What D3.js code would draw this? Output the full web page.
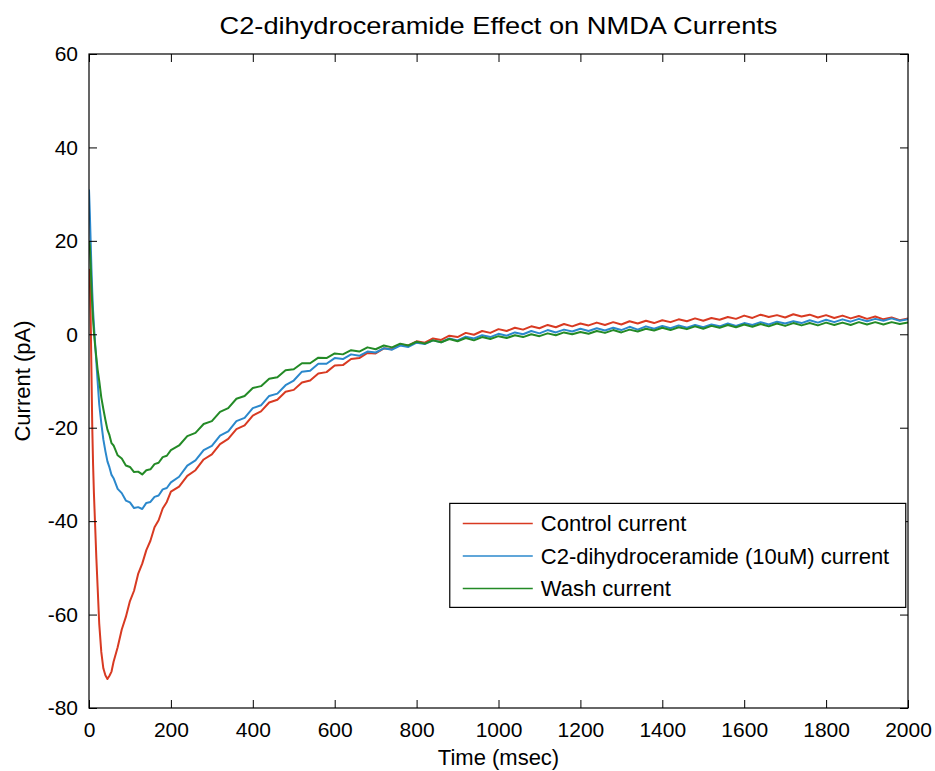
<!DOCTYPE html>
<html>
<head>
<meta charset="utf-8">
<script src="https://cdn.jsdelivr.net/npm/d3@7"></script>
<style>
  body { margin: 0; background: #fff; }
  text { font-family: "Liberation Sans", Arial, sans-serif; fill: #000; }
</style>
</head>
<body>
<div id="chart"></div>
<script>
// Data
const timeMs = [0, 2, 4, 6, 8, 10, 12, 15, 18, 21, 25, 30, 35, 40, 45, 50, 55, 60, 70, 80,
  90, 100, 110, 120, 130, 140, 150, 160, 170, 180, 190, 200,
  220, 240, 260, 280, 300, 320, 340, 360, 380, 400,
  420, 440, 460, 480, 500, 520, 540, 560, 580, 600,
  620, 640, 660, 680, 700, 720, 740, 760, 780, 800,
  820, 840, 860, 880, 900, 920, 940, 960, 980, 1000,
  1020, 1040, 1060, 1080, 1100, 1120, 1140, 1160, 1180, 1200,
  1220, 1240, 1260, 1280, 1300, 1320, 1340, 1360, 1380, 1400,
  1420, 1440, 1460, 1480, 1500, 1520, 1540, 1560, 1580, 1600,
  1620, 1640, 1660, 1680, 1700, 1720, 1740, 1760, 1780, 1800,
  1820, 1840, 1860, 1880, 1900, 1920, 1940, 1960, 1980, 2000]

const controlCurrent = [14, 12, 4, -8, -20, -28, -34, -41, -48, -54, -62, -68, -71.5, -73, -73.8, -73.1, -72.2, -70.1, -67.0, -63.2,
  -60.5, -57.1, -54.9, -51.3, -49.1, -46.2, -44.2, -41.3, -39.8, -37.3, -35.9, -33.7,
  -32.6, -30.3, -29.1, -26.8, -25.7, -23.5, -22.4, -20.3, -19.5, -17.4,
  -16.5, -14.6, -14.0, -12.3, -11.9, -10.3, -9.9, -8.4, -8.1, -6.7,
  -6.6, -5.3, -5.1, -4.0, -4.1, -3.0, -3.2, -2.2, -2.4, -1.5,
  -1.8, -0.9, -1.2, -0.3, -0.6, 0.3, -0.1, 0.7, 0.3, 1.1,
  0.7, 1.4, 1.0, 1.7, 1.3, 2.0, 1.5, 2.2, 1.7, 2.3,
  1.9, 2.5, 2.0, 2.6, 2.1, 2.8, 2.3, 2.9, 2.4, 3.0,
  2.6, 3.2, 2.8, 3.4, 2.9, 3.5, 3.1, 3.7, 3.3, 4.0,
  3.5, 4.2, 3.7, 4.1, 3.6, 4.3, 3.8, 4.2, 3.6, 4.1,
  3.5, 4.0, 3.4, 3.9, 3.3, 3.8, 3.2, 3.6, 3.0, 3.4]

const ceramideCurrent = [31, 26, 20, 14, 9, 5, 2, -2, -6, -10, -15, -19, -22.5, -25, -27.2, -28.5, -30.1, -30.8, -33.1, -34.0,
  -35.6, -36.0, -37.2, -37.0, -37.4, -36.1, -35.9, -34.8, -34.5, -33.2, -32.9, -31.7,
  -30.5, -28.1, -27.0, -24.8, -23.9, -21.7, -20.8, -18.6, -17.9, -15.8,
  -15.2, -13.2, -12.7, -10.9, -9.9, -8.0, -7.8, -6.3, -6.3, -5.1,
  -5.3, -4.3, -4.6, -3.7, -3.9, -3.0, -3.3, -2.4, -2.7, -1.8,
  -2.1, -1.3, -1.7, -0.9, -1.3, -0.5, -0.9, -0.2, -0.6, 0.1,
  -0.3, 0.4, 0.0, 0.7, 0.2, 0.9, 0.4, 1.0, 0.6, 1.2,
  0.7, 1.3, 0.8, 1.4, 0.9, 1.6, 1.0, 1.7, 1.2, 1.8,
  1.3, 1.9, 1.4, 2.0, 1.5, 2.1, 1.7, 2.3, 1.8, 2.4,
  2.0, 2.6, 2.1, 2.7, 2.3, 2.8, 2.4, 3.0, 2.5, 3.1,
  2.6, 3.2, 2.7, 3.3, 2.8, 3.3, 2.9, 3.4, 2.9, 3.2]

const washCurrent = [20, 19, 15, 10, 6, 3, 0.5, -2.5, -5, -7.5, -10, -13.5, -16, -18.3, -20.4, -21.6, -23.3, -23.8, -25.9, -26.6,
  -28.1, -28.4, -29.5, -29.4, -30.0, -29.1, -28.9, -27.8, -27.5, -26.3, -26.0, -24.8,
  -23.8, -21.8, -21.1, -19.2, -18.6, -16.6, -15.8, -13.8, -13.2, -11.5,
  -11.1, -9.5, -9.2, -7.7, -7.5, -6.2, -6.2, -5.0, -5.1, -4.1,
  -4.3, -3.4, -3.7, -2.8, -3.2, -2.4, -2.8, -2.0, -2.4, -1.6,
  -2.0, -1.3, -1.7, -1.0, -1.5, -0.8, -1.3, -0.6, -1.0, -0.4,
  -0.8, -0.2, -0.6, 0.0, -0.4, 0.2, -0.2, 0.4, 0.0, 0.5,
  0.1, 0.7, 0.3, 0.9, 0.4, 1.0, 0.6, 1.2, 0.8, 1.4,
  0.9, 1.5, 1.1, 1.7, 1.2, 1.8, 1.4, 2.0, 1.5, 2.1,
  1.6, 2.2, 1.7, 2.3, 1.8, 2.4, 1.9, 2.4, 1.9, 2.5,
  2.0, 2.5, 2.0, 2.6, 2.1, 2.6, 2.1, 2.6, 2.2, 2.5]

const seriesNames = ['Control current', 'C2-dihydroceramide (10uM) current', 'Wash current']
const seriesValues = [controlCurrent, ceramideCurrent, washCurrent]
const seriesColors = ['#d83a22', '#2b88cc', '#238a26']

const xTicks = [0, 200, 400, 600, 800, 1000, 1200, 1400, 1600, 1800, 2000]
const yTicks = [-80, -60, -40, -20, 0, 20, 40, 60]

// Dimensions
const dimensions = {
  width: 935,
  height: 771,
  margins: { top: 54, right: 27, bottom: 63, left: 89 },
}
dimensions.ctrWidth = dimensions.width - dimensions.margins.left - dimensions.margins.right
dimensions.ctrHeight = dimensions.height - dimensions.margins.top - dimensions.margins.bottom

const svg = d3.select('#chart')
  .append('svg')
  .attr('width', dimensions.width)
  .attr('height', dimensions.height)

const ctr = svg.append('g')
  .attr('transform', `translate(${dimensions.margins.left}, ${dimensions.margins.top})`)

// Scales
const xScale = d3.scaleLinear().domain([0, 2000]).range([0, dimensions.ctrWidth])
const yScale = d3.scaleLinear().domain([-80, 60]).range([dimensions.ctrHeight, 0])

ctr.append('clipPath').attr('id', 'plot-clip')
  .append('rect')
  .attr('width', dimensions.ctrWidth)
  .attr('height', dimensions.ctrHeight)

// Lines
const lineGenerator = d3.line()
  .x((d, i) => xScale(timeMs[i]))
  .y(d => yScale(d))

ctr.append('g').attr('clip-path', 'url(#plot-clip)')
  .selectAll('path')
  .data(seriesValues)
  .join('path')
  .attr('d', lineGenerator)
  .attr('fill', 'none')
  .attr('stroke', (d, i) => seriesColors[i])
  .attr('stroke-width', 2)
  .attr('stroke-linejoin', 'round')

// Axes (ticks inside, box on all sides)
const tickLen = 8
const plainNum = d => String(d)   // hyphen minus, no thousands comma
const styleAxis = g => {
  g.select('.domain').remove()
  g.selectAll('.tick line').attr('stroke', '#000')
  g.selectAll('.tick text').style('font-size', '21px').attr('fill', '#000')
}

ctr.append('g')
  .attr('transform', `translate(0, ${dimensions.ctrHeight})`)
  .call(d3.axisBottom(xScale).tickValues(xTicks).tickFormat(plainNum).tickSizeInner(-tickLen).tickSizeOuter(0).tickPadding(14))
  .call(styleAxis)

ctr.append('g')
  .call(d3.axisTop(xScale).tickValues(xTicks).tickSizeInner(-tickLen).tickSizeOuter(0).tickFormat(''))
  .call(styleAxis)

ctr.append('g')
  .call(d3.axisLeft(yScale).tickValues(yTicks).tickFormat(plainNum).tickSizeInner(-tickLen).tickSizeOuter(0).tickPadding(11))
  .call(styleAxis)

ctr.append('g')
  .attr('transform', `translate(${dimensions.ctrWidth}, 0)`)
  .call(d3.axisRight(yScale).tickValues(yTicks).tickSizeInner(-tickLen).tickSizeOuter(0).tickFormat(''))
  .call(styleAxis)

ctr.append('rect')
  .attr('width', dimensions.ctrWidth)
  .attr('height', dimensions.ctrHeight)
  .attr('fill', 'none')
  .attr('stroke', '#000')
  .attr('stroke-width', 1.2)

// Labels
svg.append('text')
  .attr('x', dimensions.margins.left + dimensions.ctrWidth / 2)
  .attr('y', 34)
  .attr('text-anchor', 'middle')
  .attr('textLength', 558)
  .attr('lengthAdjust', 'spacingAndGlyphs')
  .style('font-size', '24px')
  .text('C2-dihydroceramide Effect on NMDA Currents')

svg.append('text')
  .attr('x', dimensions.margins.left + dimensions.ctrWidth / 2)
  .attr('y', 765)
  .attr('text-anchor', 'middle')
  .style('font-size', '22px')
  .text('Time (msec)')

svg.append('text')
  .attr('transform', `translate(30, ${dimensions.margins.top + dimensions.ctrHeight / 2}) rotate(-90)`)
  .attr('text-anchor', 'middle')
  .style('font-size', '22px')
  .text('Current (pA)')

// Legend
const legend = ctr.append('g')
  .attr('transform', `translate(${xScale(881)}, ${yScale(-36.2)})`)

legend.append('rect')
  .attr('width', 456)
  .attr('height', 104)
  .attr('fill', '#fff')
  .attr('stroke', '#000')
  .attr('stroke-width', 1.2)

const legendRow = legend.selectAll('.row')
  .data(seriesNames)
  .join('g')
  .attr('class', 'row')
  .attr('transform', (d, i) => `translate(0, ${20 + i * 32.5})`)

legendRow.append('line')
  .attr('x1', 13).attr('x2', 83)
  .attr('stroke', (d, i) => seriesColors[i])
  .attr('stroke-width', 1.5)

legendRow.append('text')
  .attr('x', 91)
  .attr('dy', '0.36em')
  .style('font-size', '22px')
  .text(d => d)
</script>
</body>
</html>
